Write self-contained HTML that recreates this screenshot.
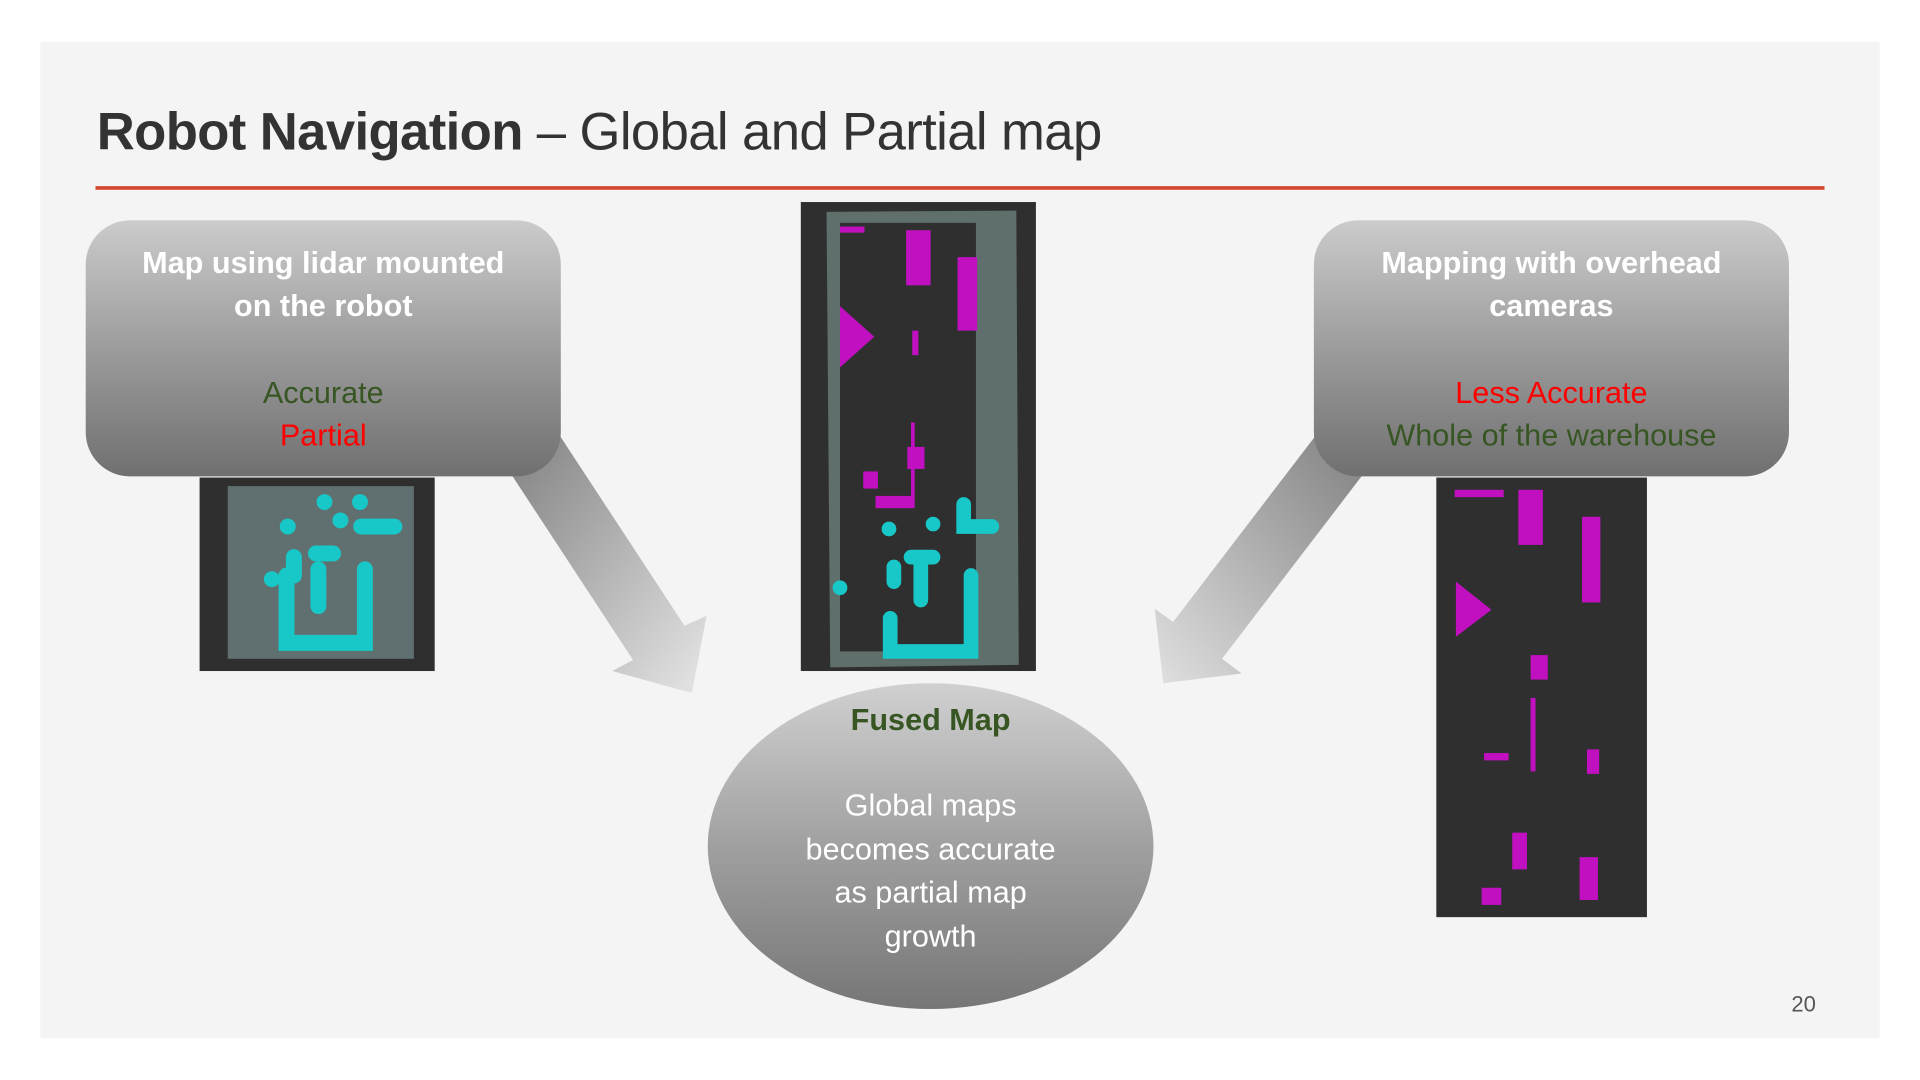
<!DOCTYPE html>
<html><head><meta charset="utf-8"><style>
html,body{margin:0;padding:0;width:1920px;height:1080px;overflow:hidden;background:#fff;}
#s{position:absolute;left:0;top:0;width:1568px;height:882px;transform:scale(1.2244898);transform-origin:0 0;font-family:"Liberation Sans",sans-serif;}
.slide{position:absolute;left:33px;top:34px;width:1502px;height:814px;background:#f4f4f4;}
.t{position:absolute;left:79px;top:84px;font-size:43px;color:#333;white-space:nowrap;letter-spacing:-0.5px}
.line{position:absolute;left:78px;top:152px;width:1412px;height:3px;background:#d2472e;}
.box{position:absolute;top:180px;width:388px;height:209px;border-radius:36px;background:linear-gradient(#cbcbcb,#9c9c9c 50%,#707070);text-align:center;}
.box .h{color:#fff;font-weight:bold;font-size:25px;line-height:35px;margin-top:18px;}
.box .b{font-size:25px;line-height:35px;margin-top:36px;}
.g{color:#375623}.r{color:#f00}
.ell{position:absolute;left:578px;top:558px;width:364px;height:266px;border-radius:50%;background:linear-gradient(#d0d0d0,#a0a0a0 50%,#767676);text-align:center;}
.num{position:absolute;left:1463px;top:810px;font-size:18px;color:#555;}
</style></head><body><div id="s">
<div class="slide"></div>
<div class="t"><b>Robot Navigation</b> – Global and Partial map</div>
<div class="line"></div>
<svg width="1568" height="882" style="position:absolute;left:0;top:0">
<defs>
<linearGradient id="ag2" x1="0" y1="0" x2="1" y2="1"><stop offset="0" stop-color="#808080"/><stop offset="1" stop-color="#e6e6e6"/></linearGradient>
<linearGradient id="ag3" x1="1" y1="0" x2="0" y2="1"><stop offset="0" stop-color="#808080"/><stop offset="1" stop-color="#e0e0e0"/></linearGradient>
</defs>
<polygon points="414,382 456,354 559,511 577,503 565,566 500,548 517,539" fill="url(#ag2)"/>
<polygon points="1075,355 1115,385 998,538 1014,550 950,558 943,497 958,508" fill="url(#ag3)"/>
<rect x="163" y="390" width="192" height="158" fill="#2f2f2f"/>
<rect x="186" y="397" width="152" height="141" fill="#607070"/>
<g stroke="#18c8c8" stroke-linecap="round" fill="none" stroke-width="13">
<path d="M234,470 V525 H298 V465"/><path d="M265,410 l0,0 M294,410 l0,0 M278,425 l0,0 M235,430 l0,0"/>
<path d="M295,430 H322"/><path d="M258,452 H272 M260,465 V495 M240,455 V470 M222,473 l0,0"/>
</g>
<rect x="654" y="165" width="192" height="383" fill="#2f2f2f"/>
<polygon points="675,173 830,172 832,543 678,545" fill="#5f6f6c"/>
<rect x="686" y="182" width="111" height="350" fill="#2f2f2f"/>
<g fill="#c010c0">
<polygon points="686,250 714,275 686,300"/><rect x="740" y="188" width="20" height="45"/><rect x="782" y="210" width="16" height="60"/>
<rect x="745" y="270" width="5" height="20"/><rect x="741" y="365" width="14" height="18"/><rect x="744" y="345" width="3" height="70"/>
<rect x="705" y="385" width="12" height="14"/><rect x="715" y="405" width="30" height="10"/><rect x="686" y="185" width="20" height="5"/>
</g>
<g stroke="#18c8c8" stroke-linecap="round" fill="none" stroke-width="12">
<path d="M727,505 V532 H793 V470"/><path d="M787,412 V430 H810"/><path d="M752,456 V490 M744,455 H762 M730,463 V475 M686,480 l0,0 M726,432 l0,0 M762,428 l0,0"/>
</g>
<rect x="1173" y="390" width="172" height="359" fill="#2f2f2f"/>
<g fill="#c010c0">
<polygon points="1189,475 1218,498 1189,520"/><rect x="1240" y="400" width="20" height="45"/><rect x="1292" y="422" width="15" height="70"/>
<rect x="1188" y="400" width="40" height="6"/><rect x="1250" y="535" width="14" height="20"/><rect x="1250" y="570" width="4" height="60"/>
<rect x="1210" y="725" width="16" height="14"/><rect x="1235" y="680" width="12" height="30"/><rect x="1290" y="700" width="15" height="35"/>
<rect x="1212" y="615" width="20" height="6"/><rect x="1296" y="612" width="10" height="20"/>
</g>
</svg>
<div class="box" style="left:70px"><div class="h">Map using lidar mounted<br>on the robot</div><div class="b"><span class="g">Accurate</span><br><span class="r">Partial</span></div></div>
<div class="box" style="left:1073px"><div class="h">Mapping with overhead<br>cameras</div><div class="b"><span class="r">Less Accurate</span><br><span class="g">Whole of the warehouse</span></div></div>
<div class="ell"><div style="margin-top:16px;font-weight:bold;font-size:25px;color:#375623">Fused Map</div>
<div style="margin-top:38px;color:#fff;font-size:25px;line-height:35.5px">Global maps<br>becomes accurate<br>as partial map<br>growth</div></div>
<div class="num">20</div>
</div></body></html>
